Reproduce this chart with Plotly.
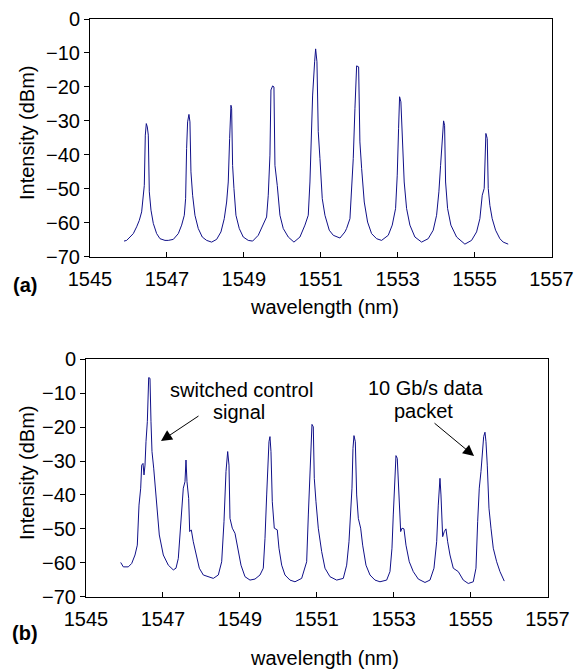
import plotly.graph_objects as go

# ---------------- data ----------------
a_wavelength = [
    1545.884, 1545.953, 1546.040, 1546.126, 1546.213, 1546.282, 1546.343, 1546.378, 1546.412, 1546.438,
    1546.464, 1546.490, 1546.516, 1546.542, 1546.586, 1546.646, 1546.733, 1546.820, 1546.950, 1547.035,
    1547.166, 1547.296, 1547.383, 1547.452, 1547.486, 1547.512, 1547.538, 1547.573, 1547.599, 1547.625,
    1547.668, 1547.729, 1547.815, 1547.919, 1548.033, 1548.163,
    1548.293, 1548.405, 1548.491, 1548.553, 1548.595, 1548.631, 1548.665, 1548.683, 1548.708, 1548.743,
    1548.795, 1548.881, 1548.985, 1549.115, 1549.229,
    1549.375, 1549.505, 1549.592, 1549.635, 1549.679, 1549.705, 1549.749, 1549.783, 1549.809, 1549.869,
    1549.939, 1550.025, 1550.155, 1550.303,
    1550.459, 1550.589, 1550.675, 1550.719, 1550.753, 1550.789, 1550.841, 1550.867, 1550.901, 1550.935,
    1550.979, 1551.039, 1551.109, 1551.221, 1551.326, 1551.499,
    1551.629, 1551.672, 1551.759, 1551.802, 1551.845, 1551.889, 1551.933, 1551.985, 1552.018, 1552.063,
    1552.131, 1552.218, 1552.322, 1552.452, 1552.582,
    1552.755, 1552.859, 1552.946, 1552.989, 1553.024, 1553.050, 1553.084, 1553.119, 1553.170, 1553.232,
    1553.318, 1553.448, 1553.622,
    1553.794, 1553.924, 1554.012, 1554.072, 1554.116, 1554.158, 1554.194, 1554.220, 1554.246, 1554.298,
    1554.384, 1554.532, 1554.748,
    1554.921, 1555.052, 1555.138, 1555.199, 1555.250, 1555.268, 1555.294, 1555.329, 1555.355, 1555.398,
    1555.458, 1555.546, 1555.658, 1555.744, 1555.874,
]
a_intensity = [
    -65.4, -65.2, -64.2, -63.2, -61.2, -59.3, -56.8, -52.9, -49.0, -34.2,
    -30.8, -31.8, -34.2, -50.9, -56.3, -60.2, -63.2, -64.7, -65.2, -65.2,
    -64.9, -63.2, -60.7, -57.8, -52.9, -38.1, -30.3, -28.1, -30.3, -45.0,
    -51.9, -57.8, -61.7, -64.2, -65.2, -65.7,
    -64.9, -62.7, -58.8, -53.9, -48.0, -35.2, -25.4, -26.3, -43.1, -49.9,
    -57.8, -61.7, -64.2, -65.2, -65.4,
    -63.7, -60.2, -58.3, -51.9, -40.1, -20.9, -19.7, -20.0, -43.1, -49.0,
    -57.8, -61.7, -64.2, -65.7,
    -64.2, -60.7, -57.8, -48.0, -36.2, -22.4, -12.6, -8.8, -12.6, -33.2,
    -41.1, -52.9, -57.8, -62.2, -63.7, -64.5,
    -62.7, -61.7, -58.8, -49.9, -41.1, -26.3, -13.8, -14.1, -36.2, -44.0,
    -53.9, -59.8, -63.2, -64.7, -65.2,
    -63.7, -60.7, -55.8, -46.0, -32.2, -22.9, -24.4, -36.2, -48.0, -55.8,
    -60.7, -64.2, -65.7,
    -64.7, -62.2, -57.8, -50.9, -43.1, -34.2, -30.0, -31.3, -48.0, -55.8,
    -60.7, -64.2, -66.3,
    -65.2, -62.7, -58.8, -51.9, -49.9, -38.1, -33.7, -35.2, -49.9, -54.9,
    -58.8, -62.2, -64.7, -65.7, -66.3,
]

b_wavelength = [
    1545.902, 1545.970, 1546.100, 1546.188, 1546.274, 1546.334, 1546.378, 1546.422, 1546.448, 1546.482,
    1546.508, 1546.534, 1546.560, 1546.595, 1546.630, 1546.664, 1546.690, 1546.716, 1546.760, 1546.820,
    1546.906, 1547.010, 1547.140, 1547.270, 1547.340,
    1547.400, 1547.444, 1547.488, 1547.530, 1547.574, 1547.600, 1547.626, 1547.670, 1547.696, 1547.738,
    1547.790, 1547.860, 1547.946, 1548.050, 1548.180, 1548.310,
    1548.440, 1548.528, 1548.588, 1548.640, 1548.684, 1548.718, 1548.744, 1548.804, 1548.874, 1548.944,
    1549.030, 1549.134, 1549.264, 1549.394, 1549.524,
    1549.610, 1549.654, 1549.698, 1549.724, 1549.758, 1549.784, 1549.810, 1549.844, 1549.896, 1549.974,
    1550.018, 1550.088, 1550.174, 1550.304, 1550.434, 1550.608,
    1550.738, 1550.781, 1550.817, 1550.851, 1550.876, 1550.910, 1550.936, 1550.980, 1551.040, 1551.128,
    1551.214, 1551.344, 1551.518, 1551.690,
    1551.778, 1551.838, 1551.882, 1551.916, 1551.942, 1551.968, 1552.003, 1552.038, 1552.081, 1552.142,
    1552.194, 1552.280, 1552.384, 1552.514, 1552.644, 1552.818,
    1552.904, 1552.956, 1552.990, 1553.026, 1553.060, 1553.094, 1553.130, 1553.182, 1553.216, 1553.268,
    1553.320, 1553.406, 1553.510, 1553.640, 1553.814, 1553.944,
    1554.048, 1554.118, 1554.160, 1554.186, 1554.204, 1554.230, 1554.274, 1554.316, 1554.360, 1554.404,
    1554.464, 1554.550, 1554.680, 1554.810, 1554.940, 1555.070,
    1555.140, 1555.184, 1555.226, 1555.270, 1555.304, 1555.340, 1555.374, 1555.400, 1555.434, 1555.478,
    1555.530, 1555.590, 1555.678, 1555.764, 1555.876,
]
b_intensity = [
    -59.9, -61.2, -61.2, -60.2, -57.7, -54.8, -43.0, -38.0, -31.2, -30.7,
    -34.1, -31.2, -24.3, -18.4, -5.4, -5.6, -18.4, -27.2, -32.1, -41.0,
    -51.8, -57.7, -60.7, -62.1, -61.6,
    -58.7, -51.8, -44.9, -38.0, -36.1, -29.7, -36.1, -41.0, -50.8, -50.3,
    -53.8, -57.7, -61.6, -63.6, -64.1, -64.6,
    -63.6, -59.7, -47.9, -33.1, -27.2, -31.2, -46.9, -49.8, -51.3, -55.7,
    -60.7, -64.1, -65.1, -64.8, -63.6,
    -61.6, -52.8, -40.0, -30.2, -24.3, -22.8, -27.2, -42.0, -49.8, -50.3,
    -55.7, -60.7, -63.6, -65.1, -65.6, -64.6,
    -59.7, -45.9, -36.1, -24.3, -19.2, -19.9, -35.1, -42.0, -49.8, -56.7,
    -61.6, -64.1, -65.1, -64.6,
    -60.7, -53.8, -45.9, -38.0, -26.3, -22.5, -24.3, -40.0, -46.9, -49.8,
    -54.8, -60.7, -63.6, -65.1, -65.6, -65.1,
    -62.6, -55.7, -45.9, -36.1, -28.4, -29.2, -40.0, -50.8, -49.8, -50.0,
    -54.8, -59.7, -62.6, -64.8, -65.8, -65.1,
    -61.6, -53.8, -43.0, -38.0, -35.1, -40.0, -52.3, -50.8, -50.0, -53.8,
    -57.7, -61.6, -62.6, -65.1, -66.1, -65.6,
    -61.6, -47.9, -38.0, -33.1, -27.2, -22.8, -21.5, -24.3, -31.2, -43.9,
    -49.8, -55.7, -59.7, -62.6, -65.4,
]

x_tick_values = [1545, 1547, 1549, 1551, 1553, 1555, 1557]
y_tick_values = [0, -10, -20, -30, -40, -50, -60, -70]
x_title = "wavelength (nm)"
y_title = "Intensity (dBm)"
panel_labels = ["(a)", "(b)"]
callouts = ["switched control", "signal", "10 Gb/s data", "packet"]

# ---------------- figure ----------------
# the page body has an 8 px margin, so the figure is drawn 8 px in from the window corner
OFF = 8
W, H = 585 - OFF, 669 - OFF
FONT = "Liberation Sans, Arial, sans-serif"
LINE = "#101088"

def px(x):
    return (x - OFF) / W

def py(y):
    return 1 - (y - OFF) / H

fig = go.Figure()
fig.add_trace(go.Scatter(x=a_wavelength, y=a_intensity, mode="lines",
                         line=dict(color=LINE, width=1), xaxis="x", yaxis="y",
                         showlegend=False, hoverinfo="skip"))
fig.add_trace(go.Scatter(x=b_wavelength, y=b_intensity, mode="lines",
                         line=dict(color=LINE, width=1), xaxis="x2", yaxis="y2",
                         showlegend=False, hoverinfo="skip"))

xcommon = dict(range=[1545, 1557], tickvals=x_tick_values, ticks="inside", ticklen=5,
               tickcolor="black", showline=True, linecolor="black", linewidth=1, mirror=True,
               showgrid=False, zeroline=False, ticklabelstandoff=4, automargin=False,
               tickfont=dict(family=FONT, size=20, color="black"))
ycommon = dict(range=[-70, 0], tickvals=y_tick_values, ticks="outside", ticklen=5,
               tickcolor="black", showline=True, linecolor="black", linewidth=1, mirror=True,
               showgrid=False, zeroline=False, automargin=False,
               tickfont=dict(family=FONT, size=20, color="black"))

fig.update_layout(
    width=W, height=H, autosize=False,
    margin=dict(l=0, r=0, t=0, b=0, pad=0, autoexpand=False),
    paper_bgcolor="white", plot_bgcolor="white",
    xaxis=dict(domain=[px(90), px(551.5)], anchor="y", **xcommon),
    yaxis=dict(domain=[py(256.7), py(19)], anchor="x", **ycommon),
    xaxis2=dict(domain=[px(86), px(547.5)], anchor="y2", **xcommon),
    yaxis2=dict(domain=[py(596.7), py(359.3)], anchor="x2", **ycommon),
)

def text(x, y, s, size=20, bold=False, angle=0):
    fig.add_annotation(x=px(x), y=py(y), xref="paper", yref="paper", text=(f"<b>{s}</b>" if bold else s),
                       showarrow=False, xanchor="center", yanchor="middle", textangle=angle,
                       font=dict(family=FONT, size=size, color="black"))

# axis titles
text(324, 307, x_title)
text(324, 658, x_title)
text(27, 133, y_title, angle=-90)
text(27, 473, y_title, angle=-90)
# panel labels
text(25, 285, panel_labels[0], bold=True)
text(25, 633, panel_labels[1], bold=True)
# callouts
text(241, 390, callouts[0])
text(239, 412, callouts[1])
text(425, 388, callouts[2])
text(423, 411, callouts[3])

# arrows (head in data coords of panel b, tail offset in pixels)
fig.add_annotation(x=1546.95, y=-24.1, xref="x2", yref="y2", ax=39, ay=-26,
                   showarrow=True, arrowhead=2, arrowsize=2.2, arrowwidth=1, arrowcolor="black", text="")
fig.add_annotation(x=1555.09, y=-28.5, xref="x2", yref="y2", ax=-41, ay=-34,
                   showarrow=True, arrowhead=2, arrowsize=2.2, arrowwidth=1, arrowcolor="black", text="")

fig.write_html("out.html")
